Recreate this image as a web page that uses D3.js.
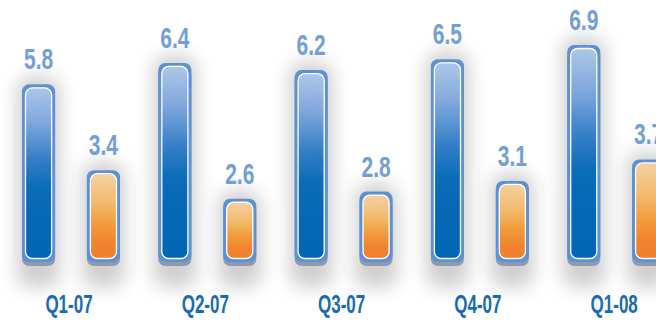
<!DOCTYPE html>
<html>
<head>
<meta charset="utf-8">
<script src="https://cdn.jsdelivr.net/npm/d3@7"></script>
<style>
  body { margin: 0; background: #fff; overflow: hidden; }
  .valLabel { font-family: "Liberation Sans", Arial, sans-serif; font-weight: bold; fill: #739ed6; }
  .catLabel { font-family: "Liberation Sans", Arial, sans-serif; font-weight: bold; fill: #1a6bb3; }
</style>
</head>
<body>
<script>
let categories = ["Q1-07", "Q2-07", "Q3-07", "Q4-07", "Q1-08"]
let series = ["blue", "orange"]
let blueValues = [5.8, 6.4, 6.2, 6.5, 6.9]
let orangeValues = [3.4, 2.6, 2.8, 3.1, 3.7]
let valueLabels = ["5.8", "6.4", "6.2", "6.5", "6.9"]
let orangeLabels = ["3.4", "2.6", "2.8", "3.1", "3.7"]

let width = 656
let height = 322
let groupstep = 136.3 // distance between the quarters
let barbottom = 266

let svg = d3.select("body")
    .append("svg")
    .attr("width", width)
    .attr("height", height)

// outer scale for quarters, inner one for the two bars
let x0 = d3.scaleBand()
    .domain(categories)
    .range([8, 8 + groupstep * categories.length])

let x1 = d3.scaleBand()
    .domain(series)
    .range([14, 112])
    .paddingInner(0.49)

// bars don't start at zero in the original
let y = d3.scaleLinear()
    .domain([0.72, 6.9])
    .range([barbottom, 45])

let defs = svg.append("defs")

defs.append("filter")
    .attr("id", "glow")
    .attr("x", "-100%").attr("y", "-50%")
    .attr("width", "300%").attr("height", "200%")
    .append("feGaussianBlur")
    .attr("stdDeviation", 9)

function addGradient(id, stops){
    let g = defs.append("linearGradient")
        .attr("id", id)
        .attr("x1", 0).attr("y1", 0)
        .attr("x2", 0).attr("y2", 1)
    stops.forEach(s => {
        g.append("stop").attr("offset", s[0]).attr("stop-color", s[1])
    })
}
addGradient("gradblue", [[0, "#a9c4e8"], [0.2, "#7ca5dc"], [0.42, "#2f7cc6"], [0.58, "#0a6bb8"], [1, "#0066b3"]])
addGradient("gradorange", [[0, "#f4cf9e"], [0.35, "#f2b868"], [0.6, "#f29a3a"], [0.82, "#f1842f"], [1, "#f07f2e"]])

// thin diagonal hatch on the upper part of each bar
let pat = defs.append("pattern")
    .attr("id", "hatch")
    .attr("patternUnits", "userSpaceOnUse")
    .attr("width", 3).attr("height", 3)
    .attr("patternTransform", "rotate(-35)")
pat.append("line")
    .attr("x1", 0).attr("y1", 0).attr("x2", 3).attr("y2", 0)
    .attr("stroke", "#ffffff").attr("stroke-width", 0.8)

let fadegrad = defs.append("linearGradient")
    .attr("id", "fade")
    .attr("x1", 0).attr("y1", 0).attr("x2", 0).attr("y2", 1)
fadegrad.append("stop").attr("offset", 0).attr("stop-color", "#fff").attr("stop-opacity", 0.35)
fadegrad.append("stop").attr("offset", 0.55).attr("stop-color", "#fff").attr("stop-opacity", 0.1)
fadegrad.append("stop").attr("offset", 0.7).attr("stop-color", "#fff").attr("stop-opacity", 0)
defs.append("mask")
    .attr("id", "fademask")
    .attr("maskContentUnits", "objectBoundingBox")
    .append("rect")
    .attr("width", 1).attr("height", 1)
    .attr("fill", "url(#fade)")

// flatten into one list of bars
let bars = []
categories.forEach((c, i) => {
    bars.push({cat: c, s: "blue", v: blueValues[i], label: valueLabels[i]})
    bars.push({cat: c, s: "orange", v: orangeValues[i], label: orangeLabels[i]})
})

function bx(d){ return x0(d.cat) + x1(d.s) }
let bw = x1.bandwidth()

// soft grey glow behind bars
svg.append("g").selectAll("rect")
    .data(bars)
    .enter()
    .append("rect")
    .attr("x", d => bx(d) - 5)
    .attr("y", d => y(d.v) - 8)
    .attr("width", bw + 10)
    .attr("height", d => barbottom - y(d.v) + 30)
    .attr("rx", 15)
    .attr("fill", "#c4c4c4")
    .attr("opacity", 0.8)
    .attr("filter", "url(#glow)")

let g = svg.append("g")

// grey bottom shadow
g.selectAll("rect.shadow")
    .data(bars)
    .enter()
    .append("rect")
    .attr("class", "shadow")
    .attr("x", d => bx(d))
    .attr("y", d => y(d.v) + 4)
    .attr("width", bw)
    .attr("height", d => barbottom - y(d.v) - 4)
    .attr("rx", 7)
    .attr("fill", "#8d9bb2")

// blue frame
g.selectAll("rect.frame")
    .data(bars)
    .enter()
    .append("rect")
    .attr("class", "frame")
    .attr("x", d => bx(d))
    .attr("y", d => y(d.v))
    .attr("width", bw)
    .attr("height", d => barbottom - y(d.v) - 4)
    .attr("rx", 7)
    .attr("fill", "#5d91d2")

// inner bar with white edge
g.selectAll("rect.inner")
    .data(bars)
    .enter()
    .append("rect")
    .attr("class", "inner")
    .attr("x", d => bx(d) + 3.5)
    .attr("y", d => y(d.v) + 3.5)
    .attr("width", bw - 7)
    .attr("height", d => barbottom - y(d.v) - 11)
    .attr("rx", 7)
    .attr("fill", d => d.s == "blue" ? "url(#gradblue)" : "url(#gradorange)")
    .attr("stroke", "#ffffff")
    .attr("stroke-width", 1.3)

g.selectAll("rect.hatch")
    .data(bars)
    .enter()
    .append("rect")
    .attr("class", "hatch")
    .attr("x", d => bx(d) + 4.5)
    .attr("y", d => y(d.v) + 4.5)
    .attr("width", bw - 9)
    .attr("height", d => barbottom - y(d.v) - 13)
    .attr("rx", 6)
    .attr("fill", "url(#hatch)")
    .attr("mask", "url(#fademask)")

// value labels above bars, squeezed to look condensed
g.selectAll("text.valLabel")
    .data(bars)
    .enter()
    .append("text")
    .attr("class", "valLabel")
    .attr("text-anchor", "middle")
    .attr("font-size", 30)
    .attr("transform", d => "translate(" + (bx(d) + bw / 2) + "," + (y(d.v) - 15) + ") scale(0.7,1)")
    .text(d => d.label)

// quarter labels
svg.selectAll("text.catLabel")
    .data(categories)
    .enter()
    .append("text")
    .attr("class", "catLabel")
    .attr("text-anchor", "middle")
    .attr("font-size", 25)
    .attr("transform", d => "translate(" + (x0(d) + 61) + ",313) scale(0.68,1)")
    .text(d => d)
</script>
</body>
</html>
